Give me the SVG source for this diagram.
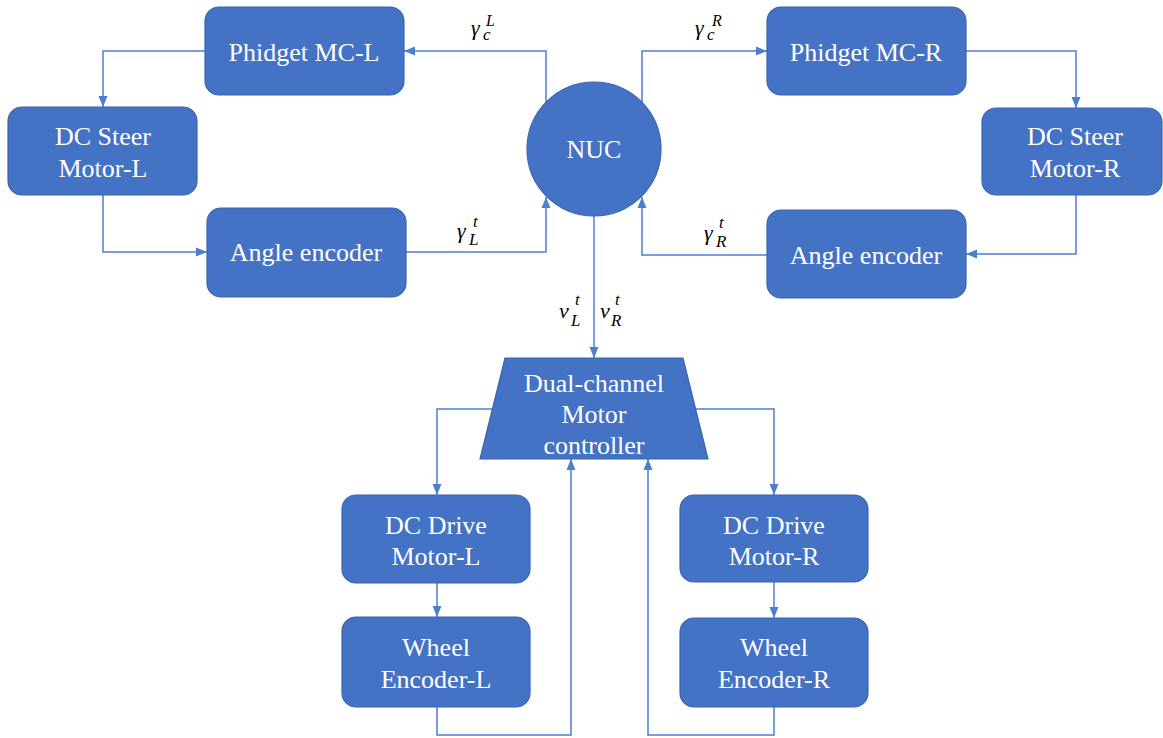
<svg xmlns="http://www.w3.org/2000/svg" width="1163" height="738" viewBox="0 0 1163 738">
<defs>
<marker id="ah" markerUnits="userSpaceOnUse" markerWidth="12" markerHeight="12" viewBox="0 0 12 12" refX="11" refY="6" orient="auto">
<path d="M0,1.5 L11,6 L0,10.5 Z" fill="#4E7FCF"/>
</marker>
</defs>
<rect width="1163" height="738" fill="#FFFFFF"/>

<g id="connectors" fill="none" stroke="#4E7FCF" stroke-width="1.5">
<path d="M205,51 H103 V107" marker-end="url(#ah)"/>
<path d="M103,195 V252 H207" marker-end="url(#ah)"/>
<path d="M546,102 V51 H404" marker-end="url(#ah)"/>
<path d="M406,252 H546 V197" marker-end="url(#ah)"/>
<path d="M642,102 V51 H767" marker-end="url(#ah)"/>
<path d="M966,51 H1076 V108" marker-end="url(#ah)"/>
<path d="M1076,195 V254 H966" marker-end="url(#ah)"/>
<path d="M767,255 H642 V197" marker-end="url(#ah)"/>
<path d="M594,216 V358" marker-end="url(#ah)"/>
<path d="M493,409 H437 V495" marker-end="url(#ah)"/>
<path d="M695,409 H774 V495" marker-end="url(#ah)"/>
<path d="M437,583 V617" marker-end="url(#ah)"/>
<path d="M774,582 V618" marker-end="url(#ah)"/>
<path d="M437,707 V735 H571 V459" marker-end="url(#ah)"/>
<path d="M774,707 V735 H648 V459" marker-end="url(#ah)"/>
</g>

<g id="labels" fill="#000000">
<text font-family="Liberation Serif" font-style="italic"><tspan x="471" y="35" font-size="22">γ</tspan><tspan x="483" y="40" font-size="17">c</tspan><tspan x="486" y="26" font-size="16">L</tspan></text>
<text font-family="Liberation Serif" font-style="italic"><tspan x="695" y="35" font-size="22">γ</tspan><tspan x="707" y="40" font-size="17">c</tspan><tspan x="712" y="26" font-size="16">R</tspan></text>
<text font-family="Liberation Serif" font-style="italic"><tspan x="457" y="238" font-size="22">γ</tspan><tspan x="469" y="245" font-size="17">L</tspan><tspan x="473" y="227" font-size="17">t</tspan></text>
<text font-family="Liberation Serif" font-style="italic"><tspan x="704" y="240" font-size="22">γ</tspan><tspan x="716" y="247" font-size="17">R</tspan><tspan x="719" y="228" font-size="17">t</tspan></text>
<text font-family="Liberation Serif" font-style="italic"><tspan x="559" y="318" font-size="22">v</tspan><tspan x="571" y="326" font-size="17">L</tspan><tspan x="575" y="305" font-size="17">t</tspan></text>
<text font-family="Liberation Serif" font-style="italic"><tspan x="600" y="318" font-size="22">v</tspan><tspan x="611" y="326" font-size="17">R</tspan><tspan x="615" y="305" font-size="17">t</tspan></text>
</g>

<g id="nodes" fill="#4472C4" stroke="#3A65B2" stroke-width="1.2">
<g id="nuc">
<circle cx="594" cy="149" r="67"/>
<text font-family="Liberation Serif" font-size="26" fill="#FFFFFF" stroke="none" text-anchor="middle" x="594" y="158">NUC</text>
</g>
<g id="phidget-l">
<rect x="205" y="7" width="199" height="88" rx="14"/>
<text font-family="Liberation Serif" font-size="26" fill="#FFFFFF" stroke="none" text-anchor="middle" x="304" y="61">Phidget MC-L</text>
</g>
<g id="steer-l">
<rect x="8" y="107" width="189" height="88" rx="14"/>
<text font-family="Liberation Serif" font-size="26" fill="#FFFFFF" stroke="none" text-anchor="middle" x="103" y="145">DC Steer</text>
<text font-family="Liberation Serif" font-size="26" fill="#FFFFFF" stroke="none" text-anchor="middle" x="103" y="177">Motor-L</text>
</g>
<g id="angle-l">
<rect x="207" y="208" width="199" height="89" rx="14"/>
<text font-family="Liberation Serif" font-size="26" fill="#FFFFFF" stroke="none" text-anchor="middle" x="306" y="261">Angle encoder</text>
</g>
<g id="phidget-r">
<rect x="767" y="7" width="199" height="88" rx="14"/>
<text font-family="Liberation Serif" font-size="26" fill="#FFFFFF" stroke="none" text-anchor="middle" x="866" y="61">Phidget MC-R</text>
</g>
<g id="steer-r">
<rect x="982" y="108" width="180" height="87" rx="14"/>
<text font-family="Liberation Serif" font-size="26" fill="#FFFFFF" stroke="none" text-anchor="middle" x="1075" y="145">DC Steer</text>
<text font-family="Liberation Serif" font-size="26" fill="#FFFFFF" stroke="none" text-anchor="middle" x="1075" y="177">Motor-R</text>
</g>
<g id="angle-r">
<rect x="767" y="210" width="199" height="88" rx="14"/>
<text font-family="Liberation Serif" font-size="26" fill="#FFFFFF" stroke="none" text-anchor="middle" x="866" y="264">Angle encoder</text>
</g>
<g id="controller">
<polygon points="505,358 683,358 708,459 480,459"/>
<text font-family="Liberation Serif" font-size="26" fill="#FFFFFF" stroke="none" text-anchor="middle" x="594" y="392">Dual-channel</text>
<text font-family="Liberation Serif" font-size="26" fill="#FFFFFF" stroke="none" text-anchor="middle" x="594" y="423">Motor</text>
<text font-family="Liberation Serif" font-size="26" fill="#FFFFFF" stroke="none" text-anchor="middle" x="594" y="454">controller</text>
</g>
<g id="drive-l">
<rect x="342" y="495" width="188" height="88" rx="14"/>
<text font-family="Liberation Serif" font-size="26" fill="#FFFFFF" stroke="none" text-anchor="middle" x="436" y="534">DC Drive</text>
<text font-family="Liberation Serif" font-size="26" fill="#FFFFFF" stroke="none" text-anchor="middle" x="436" y="565">Motor-L</text>
</g>
<g id="wheel-l">
<rect x="342" y="617" width="188" height="90" rx="14"/>
<text font-family="Liberation Serif" font-size="26" fill="#FFFFFF" stroke="none" text-anchor="middle" x="436" y="656">Wheel</text>
<text font-family="Liberation Serif" font-size="26" fill="#FFFFFF" stroke="none" text-anchor="middle" x="436" y="688">Encoder-L</text>
</g>
<g id="drive-r">
<rect x="680" y="495" width="188" height="87" rx="14"/>
<text font-family="Liberation Serif" font-size="26" fill="#FFFFFF" stroke="none" text-anchor="middle" x="774" y="534">DC Drive</text>
<text font-family="Liberation Serif" font-size="26" fill="#FFFFFF" stroke="none" text-anchor="middle" x="774" y="565">Motor-R</text>
</g>
<g id="wheel-r">
<rect x="680" y="618" width="188" height="89" rx="14"/>
<text font-family="Liberation Serif" font-size="26" fill="#FFFFFF" stroke="none" text-anchor="middle" x="774" y="656">Wheel</text>
<text font-family="Liberation Serif" font-size="26" fill="#FFFFFF" stroke="none" text-anchor="middle" x="774" y="688">Encoder-R</text>
</g>
</g>
</svg>
